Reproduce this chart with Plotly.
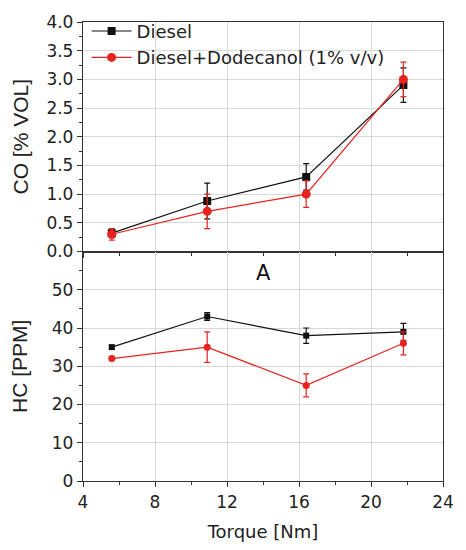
import plotly.graph_objects as go
from plotly.subplots import make_subplots

torque = [5.6, 10.9, 16.4, 21.8]
co_diesel = [0.32, 0.88, 1.30, 2.90]
co_diesel_err = [0.08, 0.31, 0.23, 0.30]
co_dodec = [0.30, 0.70, 1.00, 3.00]
co_dodec_err = [0.10, 0.30, 0.23, 0.30]
hc_diesel = [35, 43, 38, 39]
hc_diesel_err = [0.4, 1.0, 2.0, 2.2]
hc_dodec = [32, 35, 25, 36]
hc_dodec_err = [0.4, 4.0, 3.0, 3.0]

names = ["Diesel", "Diesel+Dodecanol (1% v/v)"]
x_ticks = [4, 8, 12, 16, 20, 24]

FONT = "DejaVu Sans, Arial, sans-serif"
TFONT = "Liberation Sans, Arial, sans-serif"
BLACK = "#111111"
RED = "#e8231f"
TXT = "#222222"

fig = make_subplots(rows=2, cols=1, shared_xaxes=True, vertical_spacing=0)

def add(row, y, err, color, symbol, size, name, show):
    fig.add_trace(go.Scatter(
        x=torque, y=y, mode="lines+markers", name=name, showlegend=show,
        line=dict(color=color, width=1.2),
        marker=dict(color=color, symbol=symbol, size=size),
        error_y=dict(type="data", array=err, color=color, thickness=1.2, width=3),
    ), row=row, col=1)

add(1, co_diesel, co_diesel_err, BLACK, "square", 8, names[0], True)
add(1, co_dodec, co_dodec_err, RED, "circle", 9, names[1], True)
add(2, hc_diesel, hc_diesel_err, BLACK, "square", 6, names[0], False)
add(2, hc_dodec, hc_dodec_err, RED, "circle", 7, names[1], False)

axis_common = dict(
    showline=True, linecolor="#333333", linewidth=1.3, mirror=True,
    showgrid=True, gridcolor="#d9d9d9", gridwidth=1,
    tickfont=dict(family=FONT, size=17, color=TXT),
    ticks="outside", ticklen=5, tickcolor="#333333",
    zeroline=False,
)

fig.update_xaxes(range=[4, 24], tickvals=x_ticks, **axis_common,
                 minor=dict(dtick=2, tick0=4, ticks="outside", ticklen=3, tickcolor="#333333", showgrid=False))
fig.update_xaxes(showticklabels=False, row=1, col=1)
fig.update_xaxes(title=dict(text="Torque [Nm]", font=dict(family=FONT, size=18, color=TXT), standoff=14),
                 row=2, col=1)

fig.update_yaxes(**axis_common)
fig.update_yaxes(range=[0, 4.0], dtick=0.5, tickformat=".1f",
                 minor=dict(dtick=0.25, ticks="outside", ticklen=3, tickcolor="#333333", showgrid=False),
                 title=dict(text="CO [% VOL]", font=dict(family=TFONT, size=21, color=TXT), standoff=12),
                 row=1, col=1)
fig.update_yaxes(range=[0, 60], tickvals=[0, 10, 20, 30, 40, 50],
                 minor=dict(dtick=5, ticks="outside", ticklen=3, tickcolor="#333333", showgrid=False),
                 title=dict(text="HC [PPM]", font=dict(family=TFONT, size=21, color=TXT), standoff=18),
                 row=2, col=1)

fig.add_annotation(x=14, y=54.5, xref="x2", yref="y2", text="A", showarrow=False,
                   font=dict(family=FONT, size=21, color="#111111"))

fig.update_layout(
    width=466, height=550,
    margin=dict(l=83, r=13, t=17, b=62),
    paper_bgcolor="white", plot_bgcolor="white",
    legend=dict(x=0.01, y=1.02, xanchor="left", yanchor="top",
                font=dict(family=FONT, size=18, color=TXT),
                bgcolor="rgba(255,255,255,0)", tracegroupgap=0, itemwidth=40),
    showlegend=True,
)

fig.write_html("out.html")
